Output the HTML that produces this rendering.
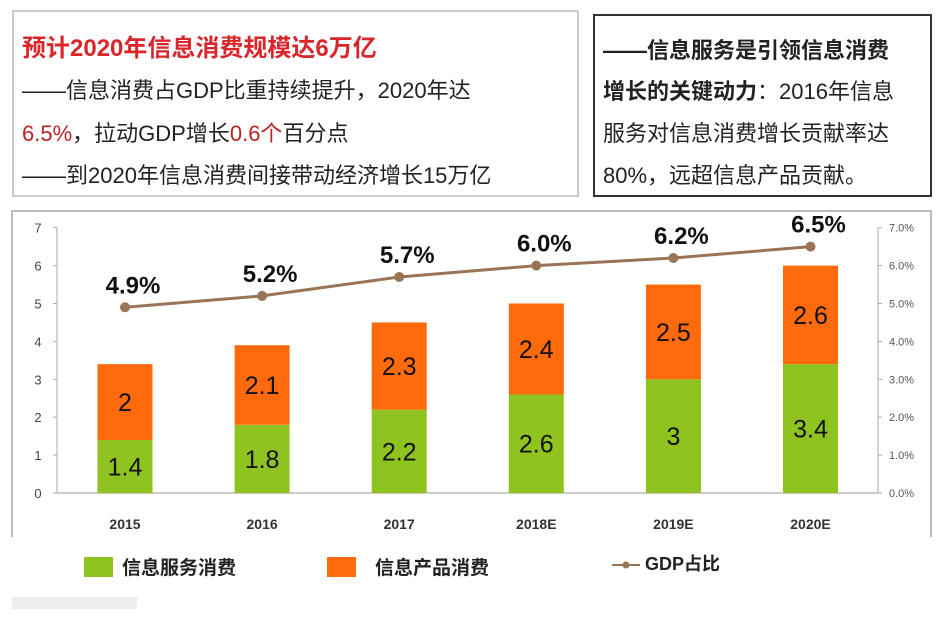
<!DOCTYPE html>
<html><head><meta charset="utf-8"><style>
body{margin:0;width:949px;height:624px;background:#fff;position:relative;overflow:hidden;font-family:"Liberation Sans","Noto Sans CJK SC",sans-serif}
.box{position:absolute;box-sizing:border-box}
.t{position:absolute;white-space:nowrap;font-size:22px;color:#222}
</style></head><body>
<div class="box" style="left:12px;top:10px;width:567px;height:187px;border:2px solid #ccc"></div>
<div class="t" style="left:22px;top:28px;color:#d9262b;font-weight:bold;font-size:24px">预计2020年信息消费规模达6万亿</div>
<div class="t" style="left:22px;top:73px">——信息消费占GDP比重持续提升，2020年达</div>
<div class="t" style="left:22px;top:116px"><span style="color:#b22">6.5%</span>，拉动GDP增长<span style="color:#b22">0.6个</span>百分点</div>
<div class="t" style="left:22px;top:158px">——到2020年信息消费间接带动经济增长15万亿</div>
<div class="box" style="left:593px;top:14px;width:339px;height:183px;border:2px solid #333"></div>
<div class="t" style="left:603px;top:33px"><b>——信息服务是引领信息消费</b></div>
<div class="t" style="left:603px;top:74px"><b>增长的关键动力</b>：2016年信息</div>
<div class="t" style="left:603px;top:116px">服务对信息消费增长贡献率达</div>
<div class="t" style="left:603px;top:158px">80%，远超信息产品贡献。</div>
<svg id="chart" width="949" height="624" style="position:absolute;left:0;top:0"></svg>
<script>
const categories=["2015","2016","2017","2018E","2019E","2020E"];
const serviceVals=[1.4,1.8,2.2,2.6,3,3.4];
const productVals=[2,2.1,2.3,2.4,2.5,2.6];
const gdpVals=[4.9,5.2,5.7,6.0,6.2,6.5];
const gdpLabels=["4.9%","5.2%","5.7%","6.0%","6.2%","6.5%"];
const leftTicks=[0,1,2,3,4,5,6,7];
const rightTicks=["0.0%","1.0%","2.0%","3.0%","4.0%","5.0%","6.0%","7.0%"];
const svg=document.getElementById('chart');const NS='http://www.w3.org/2000/svg';
function mk(tag,attrs,parent){const e=document.createElementNS(NS,tag);for(const k in attrs)e.setAttribute(k,attrs[k]);(parent||svg).appendChild(e);return e;}
const y0=493,unit=37.9;
const yL=v=>y0-v*unit;
const yR=p=>y0-p*unit;
const xC=i=>125+i*137.1;
let e;
e=mk('path',{d:'M12 537 L12 211 L931 211 L931 537',fill:'none',stroke:'#bbb','stroke-width':2});


e=mk('line',{x1:57,y1:yL(7),x2:57,y2:y0,stroke:'#aaa'});


e=mk('line',{x1:878,y1:yL(7),x2:878,y2:y0,stroke:'#aaa'});


e=mk('line',{x1:57,y1:y0,x2:878,y2:y0,stroke:'#bbb','stroke-width':1.5});


leftTicks.forEach(v=>{
 mk('line',{x1:53,x2:57,y1:yL(v),y2:yL(v),stroke:'#aaa'});
 e=mk('text',{x:38,y:yL(v)+5,'font-size':13,fill:'#444','text-anchor':'middle'});e.textContent=v;
 
 
});
rightTicks.forEach((t,i)=>{
 mk('line',{x1:878,x2:882,y1:yR(i),y2:yR(i),stroke:'#aaa'});
 e=mk('text',{x:889,y:yR(i)+4,'font-size':11,fill:'#555'});e.textContent=t;
 
 
});
const bw=55;
categories.forEach((c,i)=>{
 const x=xC(i)-bw/2;
 e=mk('rect',{x:x,y:yL(serviceVals[i]),width:bw,height:serviceVals[i]*unit,fill:'#8fc31f'});
 
 
 e=mk('rect',{x:x,y:yL(serviceVals[i]+productVals[i]),width:bw,height:productVals[i]*unit,fill:'#ff6a0c'});
 
 
 e=mk('text',{x:xC(i),y:yL(serviceVals[i]/2)+9,'font-size':25,fill:'#111','text-anchor':'middle'});e.textContent=serviceVals[i];
 
 
 e=mk('text',{x:xC(i),y:yL(serviceVals[i]+productVals[i]/2)+9,'font-size':25,fill:'#111','text-anchor':'middle'});e.textContent=productVals[i];
 
 
 e=mk('text',{x:xC(i),y:529,'font-size':14,'font-weight':'bold',fill:'#333','text-anchor':'middle'});e.textContent=c;
 
 
});
e=mk('polyline',{points:gdpVals.map((v,i)=>xC(i)+','+yR(v)).join(' '),fill:'none',stroke:'#9a7457','stroke-width':3});


gdpVals.forEach((v,i)=>{
 e=mk('circle',{cx:xC(i),cy:yR(v),r:5,fill:'#9a7457'});
 
 
 e=mk('text',{x:xC(i)+8,y:yR(v)-14,'font-size':24,'font-weight':'bold',fill:'#111','text-anchor':'middle'});e.textContent=gdpLabels[i];
 
 
});
e=mk('rect',{x:84,y:557,width:29,height:20,fill:'#8fc31f'});


e=mk('text',{x:122,y:574,'font-size':19,'font-weight':'bold',fill:'#222'});e.textContent='信息服务消费';


e=mk('rect',{x:327,y:557,width:29,height:20,fill:'#ff6a0c'});


e=mk('text',{x:375,y:574,'font-size':19,'font-weight':'bold',fill:'#222'});e.textContent='信息产品消费';


e=mk('line',{x1:612,x2:640,y1:565,y2:565,stroke:'#9a7457','stroke-width':2});


mk('circle',{cx:626,cy:565,r:3.5,fill:'#9a7457'});
e=mk('text',{x:645,y:570,'font-size':18,'font-weight':'bold',fill:'#222'});e.textContent='GDP占比';


e=mk('rect',{x:12,y:597,width:125,height:12,fill:'#eee'});


</script>
</body></html>
